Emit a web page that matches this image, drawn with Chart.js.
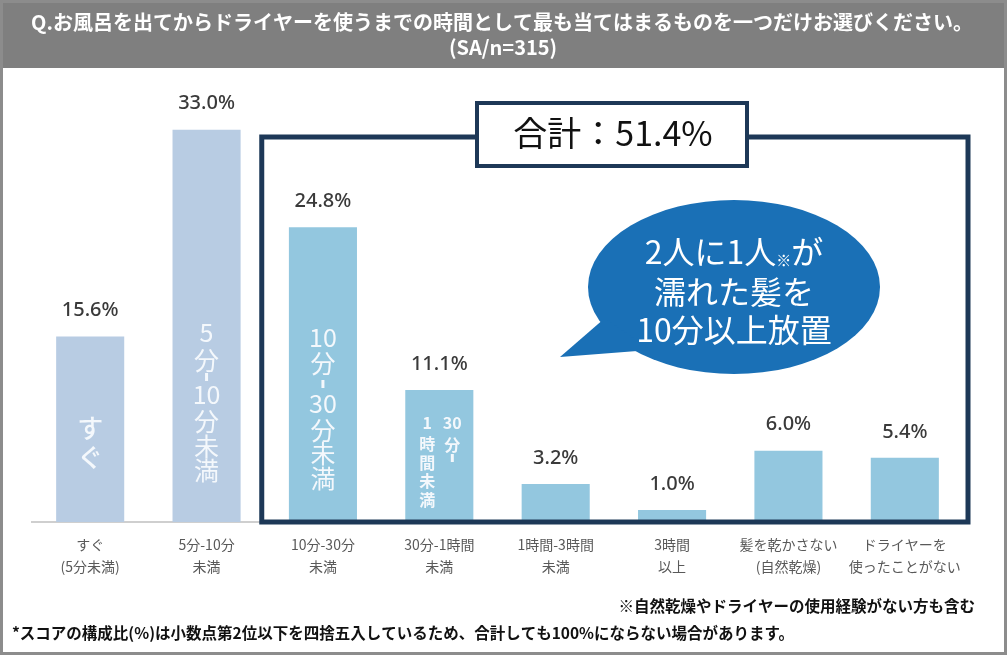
<!DOCTYPE html>
<html>
<head>
<meta charset="utf-8">
<script src="https://cdn.jsdelivr.net/npm/chart.js@4"></script>
<style>
  html, body { margin: 0; padding: 0; background: #fff; }
  canvas { display: block; }
</style>
</head>
<body>
<canvas id="myChart" width="1007" height="655"></canvas>
<script>
// データ
const categories = [
  ['すぐ', '(5分未満)'],
  ['5分-10分', '未満'],
  ['10分-30分', '未満'],
  ['30分-1時間', '未満'],
  ['1時間-3時間', '未満'],
  ['3時間', '以上'],
  ['髪を乾かさない', '(自然乾燥)'],
  ['ドライヤーを', '使ったことがない'],
];
const shares = [15.6, 33.0, 24.8, 11.1, 3.2, 1.0, 6.0, 5.4];
const titleLines = [
  'Q.お風呂を出てからドライヤーを使うまでの時間として最も当てはまるものを一つだけお選びください。',
  '(SA/n=315)',
];
const totalLabel = '合計：51.4%';
const bubbleLines = ['2人に1人', '濡れた髪を', '10分以上放置'];
const noteAsterisk = '※自然乾燥やドライヤーの使用経験がない方も含む';
const noteRounding = '*スコアの構成比(%)は小数点第2位以下を四捨五入しているため、合計しても100%にならない場合があります。';

const barColors = ['#b8cce3', '#b8cce3', '#93c7df', '#93c7df', '#93c7df', '#93c7df', '#93c7df', '#93c7df'];
const NAVY = '#1d3857';
const JP = '"Noto Sans CJK JP", "Noto Sans", sans-serif';

// 縦書き（'|' は縦の短いダッシュ）
function stack(ctx, x, base, items, size, weight) {
  ctx.font = weight + ' ' + size + 'px ' + JP;
  ctx.textAlign = 'center';
  ctx.textBaseline = 'middle';
  ctx.fillStyle = '#f4f8fc';
  items.forEach(([t, dy]) => {
    if (t === '|') {
      ctx.fillRect(x - 1.5, base + dy - 4, 3, 8);
    } else {
      ctx.fillText(t, x, base + dy);
    }
  });
}

const decor = {
  id: 'decor',
  afterDraw(chart) {
    const ctx = chart.ctx;
    const xs = chart.scales.x;
    const ys = chart.scales.y;
    const base = ys.getPixelForValue(0);
    const bars = chart.getDatasetMeta(0).data;
    ctx.save();

    // タイトル帯
    ctx.fillStyle = '#7f7f7f';
    ctx.fillRect(0, 0, 1007, 68);
    ctx.fillStyle = '#fff';
    ctx.textAlign = 'center';
    ctx.textBaseline = 'middle';
    ctx.font = 'bold 20px ' + JP;
    ctx.fillText(titleLines[0], 502, 22, 982);
    ctx.fillText(titleLines[1], 503, 47);

    // 外枠
    ctx.strokeStyle = '#8c8c8c';
    ctx.lineWidth = 3;
    ctx.strokeRect(1.5, 1.5, 1004, 652);

    // 軸ラベル
    ctx.fillStyle = '#595959';
    ctx.font = '14px ' + JP;
    categories.forEach((lines, i) => {
      const x = xs.getPixelForValue(i);
      ctx.fillText(lines[0], x, base + 23);
      ctx.fillText(lines[1], x, base + 45);
    });

    // 値ラベル
    ctx.fillStyle = '#3a3a3a';
    ctx.font = '500 20px "Noto Sans", sans-serif';
    bars.forEach((b, i) => {
      ctx.fillText(shares[i].toFixed(1) + '%', b.x, b.y - 26);
    });

    // 棒の中の縦書き
    stack(ctx, bars[0].x, base, [['す', -94], ['ぐ', -65]], 26, '500');
    stack(ctx, bars[1].x, base, [['5', -190], ['分', -162], ['|', -145], ['10', -128], ['分', -101], ['未', -76], ['満', -52]], 25, 'normal');
    stack(ctx, bars[2].x, base, [['10', -185], ['分', -159], ['|', -138], ['30', -119], ['分', -92], ['未', -69], ['満', -44]], 25, 'normal');
    stack(ctx, bars[3].x + 13, base, [['30', -99], ['分', -77], ['|', -64]], 16, 'bold');
    stack(ctx, bars[3].x - 12, base, [['1', -99], ['時', -78], ['間', -59], ['未', -41], ['満', -22]], 16, 'bold');

    // 紺の枠
    const left = xs.getPixelForValue(1.5) - 3;
    ctx.strokeStyle = NAVY;
    ctx.lineWidth = 5;
    ctx.strokeRect(left, 137, 968 - left, base - 137);

    // 合計ボックス
    ctx.fillStyle = '#fff';
    ctx.fillRect(477, 103, 270, 63);
    ctx.lineWidth = 4;
    ctx.strokeRect(477, 103, 270, 63);
    ctx.fillStyle = '#111';
    ctx.font = '34px ' + JP;
    ctx.fillText(totalLabel, 613, 133);

    // 吹き出し
    ctx.fillStyle = '#1a70b6';
    ctx.beginPath();
    ctx.ellipse(734, 287, 146, 87, 0, 0, Math.PI * 2);
    ctx.fill();
    ctx.beginPath();
    ctx.moveTo(605, 318);
    ctx.lineTo(560, 357);
    ctx.lineTo(650, 350);
    ctx.closePath();
    ctx.fill();
    ctx.fillStyle = '#fff';
    ctx.font = '32px ' + JP;
    ctx.textAlign = 'left';
    const w0 = ctx.measureText(bubbleLines[0]).width;
    ctx.font = '15px ' + JP;
    const wm = ctx.measureText('※').width;
    ctx.font = '32px ' + JP;
    const wg = ctx.measureText('が').width;
    const sx = 734 - (w0 + wm + wg) / 2;
    ctx.fillText(bubbleLines[0], sx, 252);
    ctx.font = '15px ' + JP;
    ctx.fillText('※', sx + w0, 260);
    ctx.font = '32px ' + JP;
    ctx.fillText('が', sx + w0 + wm, 252);
    ctx.textAlign = 'center';
    ctx.fillText(bubbleLines[1], 734, 292);
    ctx.fillText(bubbleLines[2], 734, 330);

    // 注釈
    ctx.fillStyle = '#111';
    ctx.font = 'bold 15.5px ' + JP;
    ctx.textAlign = 'right';
    ctx.fillText(noteAsterisk, 975, 606);
    ctx.textAlign = 'left';
    ctx.fillText(noteRounding, 12, 633);

    ctx.restore();
  },
};

new Chart(document.getElementById('myChart'), {
  type: 'bar',
  data: {
    labels: categories,
    datasets: [
      {
        data: shares,
        backgroundColor: barColors,
        borderWidth: 0,
        categoryPercentage: 1,
        barPercentage: 0.585,
      },
    ],
  },
  options: {
    responsive: false,
    animation: false,
    layout: { padding: { top: 94, left: 32, right: 44, bottom: 133 } },
    plugins: { legend: { display: false }, tooltip: { enabled: false } },
    scales: {
      x: {
        ticks: { display: false },
        grid: { display: false, drawTicks: false },
        border: { color: '#cfcfcf', width: 2 },
      },
      y: { display: false, min: 0, max: 36 },
    },
  },
  plugins: [decor],
});
</script>
</body>
</html>
